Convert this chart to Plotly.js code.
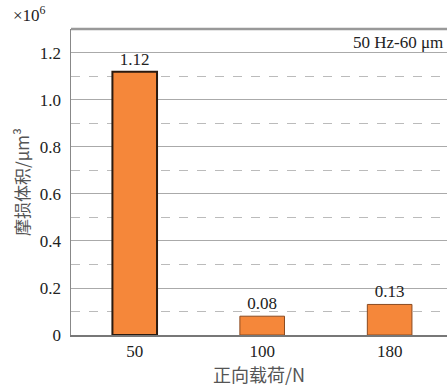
<!DOCTYPE html>
<html><head><meta charset="utf-8">
<script src="https://cdn.plot.ly/plotly-3.0.1.min.js"></script>
<style>body{margin:0;background:#fff}#c{width:447px;height:387px}</style>
</head><body><div id="c"></div>
<script>
const categories = ['50', '100', '180'];
const values = [1.12, 0.08, 0.13];
const labels = ['1.12', '0.08', '0.13'];
const tickVals = [0, 0.2, 0.4, 0.6, 0.8, 1.0, 1.2];
const tickText = ['0', '0.2', '0.4', '0.6', '0.8', '1.0', '1.2'];

const serif = 'Liberation Serif, Times New Roman, serif';
const trace = {
  type: 'bar', x: [0,1,2], y: values, text: labels,
  textposition: 'outside', cliponaxis: false,
  textfont: {family: serif, size: 17, color: '#222'},
  width: 0.35,
  marker: {color: '#F5873A', line: {color: ['#2a1a10', '#8a4a20', '#8a4a20'], width: [2, 1, 1]}},
  hoverinfo: 'none'
};
const layout = {
  width: 447, height: 387,
  margin: {l: 71, r: 0, t: 29, b: 52},
  paper_bgcolor: '#fff', plot_bgcolor: '#fff',
  showlegend: false,
  font: {family: serif, size: 17, color: '#222'},
  xaxis: {
    range: [-0.5, 2.45], tickvals: [0,1,2], ticktext: categories,
    showgrid: false, zeroline: false, showline: true, linecolor: '#777', linewidth: 1.5,
    ticks: '', tickfont: {family: serif, size: 17, color: '#222'},
    title: {text: '正向载荷/N', font: {family: 'Noto Sans CJK SC, sans-serif', size: 18, color: '#555'}, standoff: 6}
  },
  yaxis: {
    range: [0, 1.302], tickvals: tickVals, ticktext: tickText,
    showgrid: true, gridcolor: '#aaaaaa', gridwidth: 1,
    zeroline: false, showline: true, linecolor: '#888', linewidth: 1.5, ticks: '',
    ticklabelstandoff: 5,
    tickfont: {family: serif, size: 17, color: '#222'},
    minor: {tickvals: [0.1, 0.3, 0.5, 0.7, 0.9, 1.1], showgrid: true, gridcolor: '#bbbbbb', griddash: 'dash', gridwidth: 1},
    title: {text: '摩损体积/μm³', font: {family: 'Noto Sans CJK SC, sans-serif', size: 17, color: '#555'}, standoff: 6}
  },
  shapes: [
    {type: 'line', xref: 'paper', yref: 'paper', x0: 0, x1: 1, y0: 1, y1: 1, line: {color: '#999', width: 2.5}}
  ],
  annotations: [
    {text: '×10<sup>6</sup>', xref: 'paper', yref: 'paper', x: -0.16, y: 1.005, xanchor: 'left', yanchor: 'bottom', showarrow: false, font: {family: serif, size: 17, color: '#222'}},
    {text: '50 Hz-60 μm', xref: 'paper', yref: 'paper', x: 0.995, y: 0.995, xanchor: 'right', yanchor: 'top', showarrow: false, font: {family: serif, size: 17, color: '#222'}}
  ]
};
Plotly.newPlot('c', [trace], layout, {displayModeBar: false, staticPlot: true});
</script></body></html>
